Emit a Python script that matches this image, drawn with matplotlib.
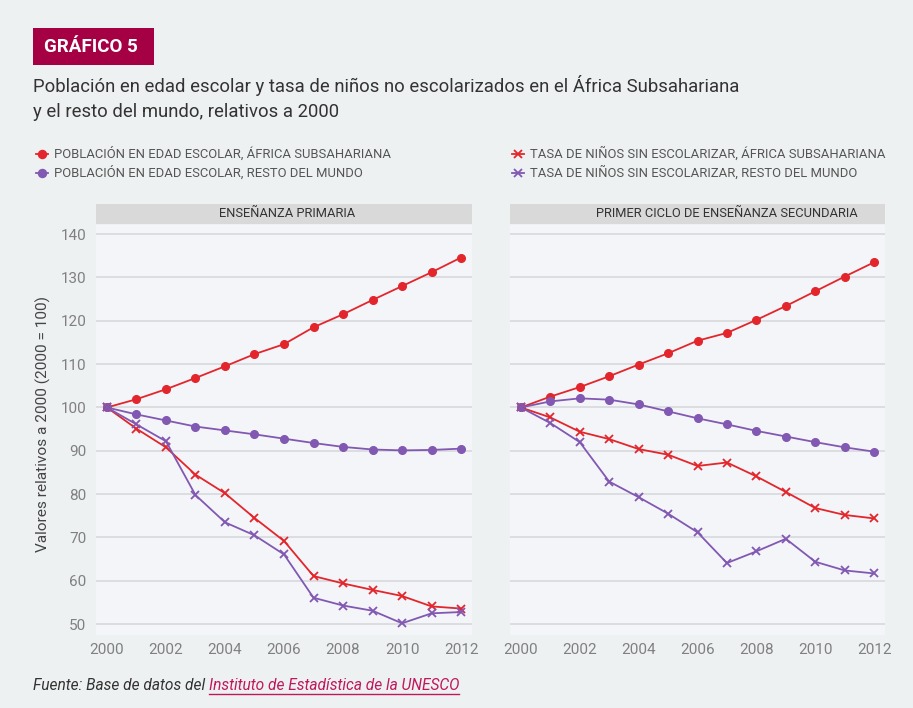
import numpy as np
import matplotlib
matplotlib.use('Agg')
import matplotlib.pyplot as plt
from matplotlib.patches import Rectangle
from matplotlib.lines import Line2D

years = list(range(2000, 2013))

# Enseñanza primaria
pri_pob_ssa = [100, 101.9, 104.2, 106.8, 109.5, 112.3, 114.6, 118.5, 121.5, 124.8, 128.0, 131.2, 134.6]
pri_pob_rest = [100, 98.4, 97.0, 95.6, 94.7, 93.8, 92.8, 91.8, 90.9, 90.3, 90.1, 90.2, 90.5]
pri_tasa_ssa = [100, 95.1, 90.8, 84.5, 80.2, 74.5, 69.2, 61.1, 59.4, 57.9, 56.5, 54.1, 53.6]
pri_tasa_rest = [100, 96.1, 92.2, 79.8, 73.5, 70.5, 66.1, 56.1, 54.3, 53.1, 50.2, 52.5, 52.8]

# Primer ciclo de enseñanza secundaria
sec_pob_ssa = [100, 102.5, 104.7, 107.2, 109.9, 112.5, 115.4, 117.2, 120.2, 123.4, 126.8, 130.2, 133.5]
sec_pob_rest = [100, 101.4, 102.1, 101.8, 100.7, 99.1, 97.5, 96.1, 94.6, 93.3, 92.0, 90.8, 89.8]
sec_tasa_ssa = [100, 97.7, 94.4, 92.7, 90.4, 89.1, 86.5, 87.3, 84.1, 80.5, 76.8, 75.2, 74.4]
sec_tasa_rest = [100, 96.4, 92.0, 82.9, 79.3, 75.5, 71.2, 64.1, 66.8, 69.7, 64.4, 62.4, 61.7]

yticks = [50, 60, 70, 80, 90, 100, 110, 120, 130, 140]
xticks = [2000, 2002, 2004, 2006, 2008, 2010, 2012]

labels = ['POBLACIÓN EN EDAD ESCOLAR, ÁFRICA SUBSAHARIANA',
          'POBLACIÓN EN EDAD ESCOLAR, RESTO DEL MUNDO',
          'TASA DE NIÑOS SIN ESCOLARIZAR, ÁFRICA SUBSAHARIANA',
          'TASA DE NIÑOS SIN ESCOLARIZAR, RESTO DEL MUNDO']

RED = '#e2262c'
PURPLE = '#8158b2'
BG = '#eef1f2'
PANEL = '#f4f5f9'
STRIP = '#d9d9d9'
CRIMSON = '#a50044'

plt.rcParams['font.family'] = ['Roboto', 'DejaVu Sans']

W, H = 913, 708
fig = plt.figure(figsize=(W / 100, H / 100), dpi=100, facecolor=BG)


def px(x0, y0, x1, y1):
    return [x0 / W, 1 - y1 / H, (x1 - x0) / W, (y1 - y0) / H]


def panel(rect, strip_rect, title, title_x, data, show_y):
    ax = fig.add_axes(px(*rect))
    ax.set_facecolor(PANEL)
    for s in ax.spines.values():
        s.set_visible(False)
    ax.set_xlim(1999.63, 2012.37)
    ax.set_ylim(47.5, 142.1)
    ax.set_yticks(yticks)
    ax.set_xticks(xticks)
    ax.grid(axis='y', color='#d8d9dc', linewidth=1.2)
    ax.set_axisbelow(True)
    ax.tick_params(length=0, labelsize=11, colors='#808080', pad=7)
    if not show_y:
        ax.set_yticklabels([])
    ax.tick_params(axis='x', pad=6)
    pob_ssa, pob_rest, tasa_ssa, tasa_rest = data
    ax.plot(years, pob_ssa, color=RED, marker='o', ms=5.5, lw=1.3)
    ax.plot(years, pob_rest, color=PURPLE, marker='o', ms=5.5, lw=1.3)
    ax.plot(years, tasa_ssa, color=RED, marker='x', ms=6, mew=1.3, lw=1.3)
    ax.plot(years, tasa_rest, color=PURPLE, marker='x', ms=6, mew=1.3, lw=1.3)
    sx0, sy0, sx1, sy1 = strip_rect
    fig.patches.append(Rectangle((sx0 / W, 1 - sy1 / H), (sx1 - sx0) / W, (sy1 - sy0) / H,
                                 transform=fig.transFigure, facecolor=STRIP, edgecolor='none'))
    fig.text(title_x / W, 1 - (sy0 + sy1) / 2 / H, title, ha='center', va='center',
             fontsize=9.3, color='#333333')
    return ax


panel((96, 225, 472, 635), (96, 204, 472, 224), 'ENSEÑANZA PRIMARIA', 287,
      (pri_pob_ssa, pri_pob_rest, pri_tasa_ssa, pri_tasa_rest), True)
panel((510, 225, 885, 635), (510, 204, 885, 224), 'PRIMER CICLO DE ENSEÑANZA SECUNDARIA', 727,
      (sec_pob_ssa, sec_pob_rest, sec_tasa_ssa, sec_tasa_rest), False)

fig.text(43 / W, 1 - 424 / H, 'Valores relativos a 2000 (2000 = 100)', rotation=90,
         ha='center', va='center', fontsize=11.1, color='#444444')

# cabecera
fig.patches.append(Rectangle((33 / W, 1 - 65 / H), 121 / W, 37 / H, transform=fig.transFigure,
                             facecolor=CRIMSON, edgecolor='none'))
fig.text(44 / W, 1 - 47 / H, 'GRÁFICO 5', ha='left', va='center', fontsize=13.5,
         fontweight='bold', color='white')
fig.text(33 / W, 1 - 86 / H, 'Población en edad escolar y tasa de niños no escolarizados en el África Subsahariana',
         ha='left', va='center', fontsize=13.3, color='#333333')
fig.text(33 / W, 1 - 112 / H, 'y el resto del mundo, relativos a 2000',
         ha='left', va='center', fontsize=13.3, color='#333333')

# leyenda
leg = [(42, 154, RED, 'o', labels[0]), (42, 173, PURPLE, 'o', labels[1]),
       (518, 154, RED, 'x', labels[2]), (518, 173, PURPLE, 'x', labels[3])]
for x, y, c, m, t in leg:
    fig.add_artist(Line2D([(x - 6) / W, (x + 6) / W], [1 - y / H, 1 - y / H], color=c, lw=1.3,
                          transform=fig.transFigure))
    fig.add_artist(Line2D([x / W], [1 - y / H], color=c, marker=m, ms=5.5 if m == 'o' else 6,
                          mew=1.3, transform=fig.transFigure))
    fig.text((x + 12) / W, 1 - y / H, t, ha='left', va='center', fontsize=9.4,
             color='#555555')

# fuente
t1 = fig.text(33 / W, 1 - 685 / H, 'Fuente: Base de datos del ', ha='left', va='center',
              fontsize=11.2, style='italic', color='#333333')
fig.canvas.draw()
r = fig.canvas.get_renderer()
bb = t1.get_window_extent(r)
t2 = fig.text(bb.x1 / W, 1 - 685 / H, 'Instituto de Estadística de la UNESCO', ha='left',
              va='center', fontsize=11.2, style='italic', color='#c0185c')
bb2 = t2.get_window_extent(r)
fig.add_artist(Line2D([bb2.x0 / W, bb2.x1 / W], [(bb2.y0 - 1) / H] * 2, color='#c0185c', lw=1,
                      transform=fig.transFigure))

fig.savefig('out.png', dpi=100, facecolor=BG)
